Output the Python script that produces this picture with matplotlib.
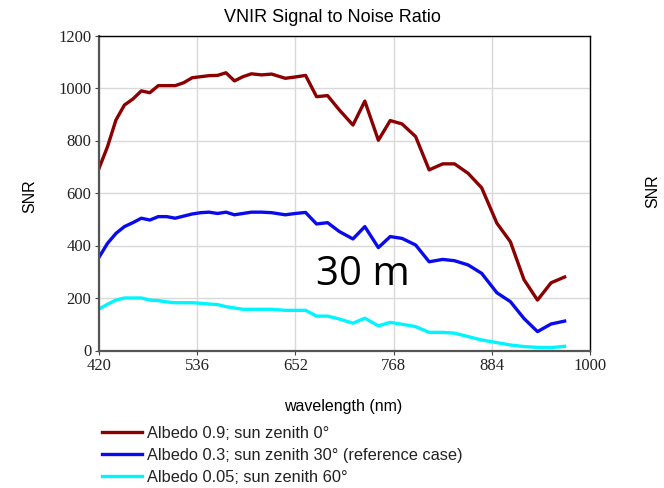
import matplotlib
matplotlib.use("Agg")
import matplotlib.pyplot as plt
from matplotlib.lines import Line2D

wavelength = [420, 430, 440, 450, 460, 470, 480, 490, 500, 510, 520, 530, 540, 550,
              560, 570, 580, 590, 600, 612, 624, 640, 652, 664, 677, 690, 704, 720,
              734, 750, 764, 778, 794, 810, 826, 840, 856, 872, 890, 906, 922, 938,
              954, 970]

snr_albedo_09 = [694, 776, 878, 935, 958, 989, 982, 1009, 1009, 1009, 1020, 1039, 1043, 1047,
                 1048, 1058, 1027, 1043, 1054, 1050, 1053, 1037, 1042, 1048, 967, 971, 916, 859,
                 950, 801, 876, 863, 815, 688, 711, 711, 675, 620, 485, 414, 270, 192,
                 258, 280]

snr_albedo_03 = [355, 408, 446, 472, 487, 504, 497, 510, 510, 504, 512, 520, 525, 527,
                 522, 527, 517, 522, 527, 527, 525, 517, 522, 526, 482, 487, 453, 425,
                 472, 392, 434, 427, 402, 338, 347, 342, 326, 294, 220, 186, 122, 72,
                 101, 112]

snr_albedo_005 = [158, 176, 192, 200, 200, 200, 192, 190, 185, 182, 182, 182, 180, 177,
                  175, 167, 162, 157, 157, 157, 157, 153, 153, 153, 131, 131, 120, 104,
                  123, 94, 107, 100, 91, 69, 69, 66, 53, 40, 30, 21, 15, 12,
                  11, 16]

series_labels = ["Albedo 0.9; sun zenith 0°",
                 "Albedo 0.3; sun zenith 30° (reference case)",
                 "Albedo 0.05; sun zenith 60°"]
series_colors = ["#8b0000", "#0a0aee", "#00f5ff"]

x_ticks = [420, 536, 652, 768, 884, 1000]
y_ticks = [0, 200, 400, 600, 800, 1000, 1200]

fig = plt.figure(figsize=(6.64, 4.88), dpi=100)
ax = fig.add_axes([99/664, 1 - 350.5/488, (590 - 99)/664, (350.5 - 35.5)/488])

for vals, col in zip([snr_albedo_09, snr_albedo_03, snr_albedo_005], series_colors):
    ax.plot(wavelength, vals, color=col, lw=2.4, solid_joinstyle="round")

ax.set_xlim(420, 1000)
ax.set_ylim(0, 1200)
ax.set_xticks(x_ticks)
ax.set_yticks(y_ticks)
ax.grid(True, color="#d9d9d9", lw=1.0)
ax.set_axisbelow(True)
serif = "Liberation Serif"
for lab in ax.get_xticklabels() + ax.get_yticklabels():
    lab.set_family(serif)
    lab.set_fontsize(12)
    lab.set_color("#222222")
ax.tick_params(axis="both", length=3, width=0.8, color="#444444", pad=2.5)
for side in ["top", "right"]:
    ax.spines[side].set_color("black")
    ax.spines[side].set_linewidth(1.0)
for side in ["left", "bottom"]:
    ax.spines[side].set_color("#555555")
    ax.spines[side].set_linewidth(1.6)

sans = "Liberation Sans"
fig.text(332/664, 1 - 17/488, "VNIR Signal to Noise Ratio", ha="center", va="center",
         family=sans, fontsize=13)
fig.text(30/664, 1 - 196/488, "SNR", rotation=90, ha="center", va="center",
         family=sans, fontsize=11.5)
fig.text(653/664, 1 - 191/488, "SNR", rotation=90, ha="center", va="center",
         family=sans, fontsize=11.5)
fig.text(343/664, 1 - 407/488, "wavelength (nm)", ha="center", va="center",
         family=sans, fontsize=11.5)
fig.text(316/664, 1 - 275/488, "30 m", ha="left", va="center",
         family="Open Sans", fontsize=29, color="black")

handles = [Line2D([0], [0], color=c, lw=2.4) for c in series_colors]
leg = fig.legend(handles, series_labels, loc="upper left",
                 bbox_to_anchor=(102/664, 1 - 426/488), frameon=False,
                 prop={"family": sans, "size": 11.8}, handlelength=2.45,
                 handletextpad=0.3, labelspacing=0.42, borderaxespad=0,
                 borderpad=0)
for t in leg.get_texts():
    t.set_color("#222222")

fig.savefig("out.png", dpi=100)
